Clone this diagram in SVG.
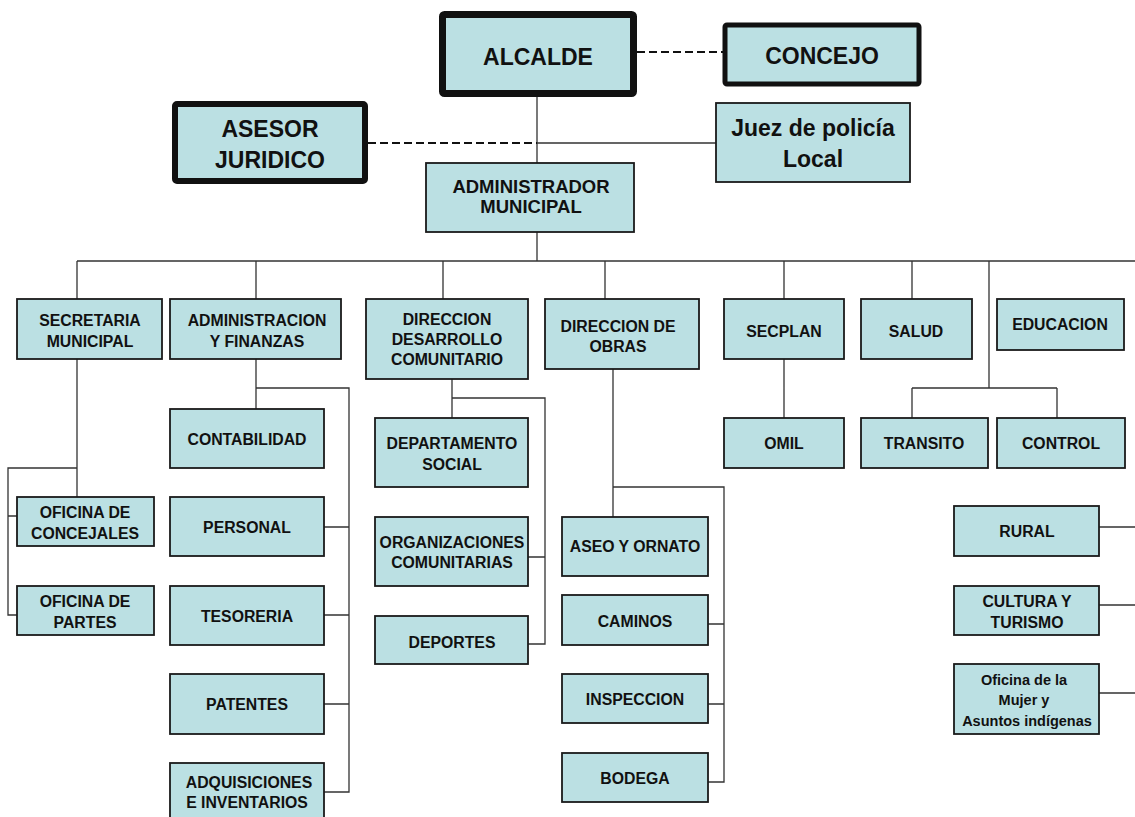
<svg xmlns="http://www.w3.org/2000/svg" width="1135" height="817" viewBox="0 0 1135 817">
<style>
.bx{fill:#bbe0e3;stroke:#1a1a1a;stroke-width:1.8}
.bk{fill:#bbe0e3;stroke:#111;stroke-linejoin:round}
.t{font-family:"Comic Sans MS","Liberation Sans",Arial,sans-serif;font-weight:bold;font-size:15.8px;fill:#111;text-anchor:middle}
.tb{font-size:23px}
.c{fill:none;stroke:#333;stroke-width:1.3}
.d{fill:none;stroke:#111;stroke-width:2;stroke-dasharray:8 4}
</style>
<rect width="1135" height="817" fill="#fff"/>
<g id="connectors">
<path class="c" d="M537 94V261M537 143H716M77 261H1135M77 261V299M256 261V299M443 261V299M605 261V299M784 261V299M912 261V299M989 261V388M912 388H1057M912 388V418M1057 388V418M784 359V418"/>
<path class="c" d="M77 359V497M77 468H8V615H17M8 516H17"/>
<path class="c" d="M256 359V409M256 388H349V792H324M324 527H349M324 615H349M324 704H349"/>
<path class="c" d="M452 379V418M452 398H545V644H528M528 557H545"/>
<path class="c" d="M613 369V517M613 487H724V782H708M708 624H724M708 704H724"/>
<path class="c" d="M1099 527H1135M1099 605H1135M1099 693H1135"/>
<path class="d" d="M368 143H537M637 52H723"/>
</g>
<g id="alcalde"><rect class="bk" x="442.5" y="14.5" width="191" height="79" stroke-width="7" rx="2"/><text class="t tb" x="538" y="65">ALCALDE</text></g>
<g id="concejo"><rect class="bk" x="725" y="25" width="194" height="59" stroke-width="5" rx="2"/><text class="t tb" x="822" y="64">CONCEJO</text></g>
<g id="asesor"><rect class="bk" x="175" y="104" width="190" height="77" stroke-width="6" rx="2"/><text class="t tb" x="270" y="137">ASESOR</text><text class="t tb" x="270" y="168">JURIDICO</text></g>
<g id="juez"><rect class="bx" x="716" y="103" width="194" height="79"/><text class="t tb" x="813" y="136">Juez de policía</text><text class="t tb" x="813" y="167">Local</text></g>
<g id="administrador"><rect class="bx" x="426" y="163" width="208" height="69"/><text class="t" x="531" y="193" style="font-size:18.5px">ADMINISTRADOR</text><text class="t" x="531" y="213" style="font-size:18.5px">MUNICIPAL</text></g>
<g id="secretaria"><rect class="bx" x="17" y="299" width="145" height="60"/><text class="t" x="90" y="326">SECRETARIA</text><text class="t" x="90" y="347">MUNICIPAL</text></g>
<g id="finanzas"><rect class="bx" x="170" y="299" width="171" height="60"/><text class="t" x="257" y="326">ADMINISTRACION</text><text class="t" x="257" y="347">Y FINANZAS</text></g>
<g id="dideco"><rect class="bx" x="366" y="299" width="162" height="80"/><text class="t" x="447" y="325">DIRECCION</text><text class="t" x="447" y="345">DESARROLLO</text><text class="t" x="447" y="365">COMUNITARIO</text></g>
<g id="obras"><rect class="bx" x="545" y="299" width="154" height="70"/><text class="t" x="618" y="332">DIRECCION DE</text><text class="t" x="618" y="352">OBRAS</text></g>
<g id="secplan"><rect class="bx" x="724" y="299" width="120" height="60"/><text class="t" x="784" y="337">SECPLAN</text></g>
<g id="salud"><rect class="bx" x="861" y="299" width="111" height="60"/><text class="t" x="916" y="337">SALUD</text></g>
<g id="educacion"><rect class="bx" x="997" y="299" width="127" height="51"/><text class="t" x="1060" y="330">EDUCACION</text></g>
<g id="omil"><rect class="bx" x="724" y="418" width="120" height="50"/><text class="t" x="784" y="449">OMIL</text></g>
<g id="transito"><rect class="bx" x="861" y="418" width="127" height="50"/><text class="t" x="924" y="449">TRANSITO</text></g>
<g id="control"><rect class="bx" x="997" y="418" width="128" height="50"/><text class="t" x="1061" y="449">CONTROL</text></g>
<g id="concejales"><rect class="bx" x="17" y="497" width="137" height="49"/><text class="t" x="85" y="518">OFICINA DE</text><text class="t" x="85" y="539">CONCEJALES</text></g>
<g id="partes"><rect class="bx" x="17" y="586" width="137" height="49"/><text class="t" x="85" y="607">OFICINA DE</text><text class="t" x="85" y="628">PARTES</text></g>
<g id="contabilidad"><rect class="bx" x="170" y="409" width="154" height="59"/><text class="t" x="247" y="445">CONTABILIDAD</text></g>
<g id="personal"><rect class="bx" x="170" y="497" width="154" height="59"/><text class="t" x="247" y="533">PERSONAL</text></g>
<g id="tesoreria"><rect class="bx" x="170" y="586" width="154" height="59"/><text class="t" x="247" y="622">TESORERIA</text></g>
<g id="patentes"><rect class="bx" x="170" y="674" width="154" height="60"/><text class="t" x="247" y="710">PATENTES</text></g>
<g id="adquisiciones"><rect class="bx" x="170" y="763" width="154" height="60"/><text class="t" x="249" y="788">ADQUISICIONES</text><text class="t" x="247" y="808">E INVENTARIOS</text></g>
<g id="social"><rect class="bx" x="375" y="418" width="153" height="69"/><text class="t" x="452" y="449">DEPARTAMENTO</text><text class="t" x="452" y="470">SOCIAL</text></g>
<g id="organizaciones"><rect class="bx" x="375" y="517" width="153" height="69"/><text class="t" x="452" y="548">ORGANIZACIONES</text><text class="t" x="452" y="568">COMUNITARIAS</text></g>
<g id="deportes"><rect class="bx" x="375" y="616" width="153" height="48"/><text class="t" x="452" y="648">DEPORTES</text></g>
<g id="aseo"><rect class="bx" x="562" y="517" width="146" height="59"/><text class="t" x="635" y="552">ASEO Y ORNATO</text></g>
<g id="caminos"><rect class="bx" x="562" y="595" width="146" height="50"/><text class="t" x="635" y="627">CAMINOS</text></g>
<g id="inspeccion"><rect class="bx" x="562" y="674" width="146" height="49"/><text class="t" x="635" y="705">INSPECCION</text></g>
<g id="bodega"><rect class="bx" x="562" y="753" width="146" height="49"/><text class="t" x="635" y="784">BODEGA</text></g>
<g id="rural"><rect class="bx" x="954" y="506" width="145" height="50"/><text class="t" x="1027" y="537">RURAL</text></g>
<g id="cultura"><rect class="bx" x="954" y="586" width="145" height="49"/><text class="t" x="1027" y="607">CULTURA Y</text><text class="t" x="1027" y="628">TURISMO</text></g>
<g id="mujer"><rect class="bx" x="954" y="664" width="145" height="70"/><text class="t" x="1024" y="685" style="font-size:14.5px">Oficina de la</text><text class="t" x="1024" y="705" style="font-size:14.5px">Mujer y</text><text class="t" x="1027" y="726" style="font-size:14.5px">Asuntos indígenas</text></g>
</svg>
